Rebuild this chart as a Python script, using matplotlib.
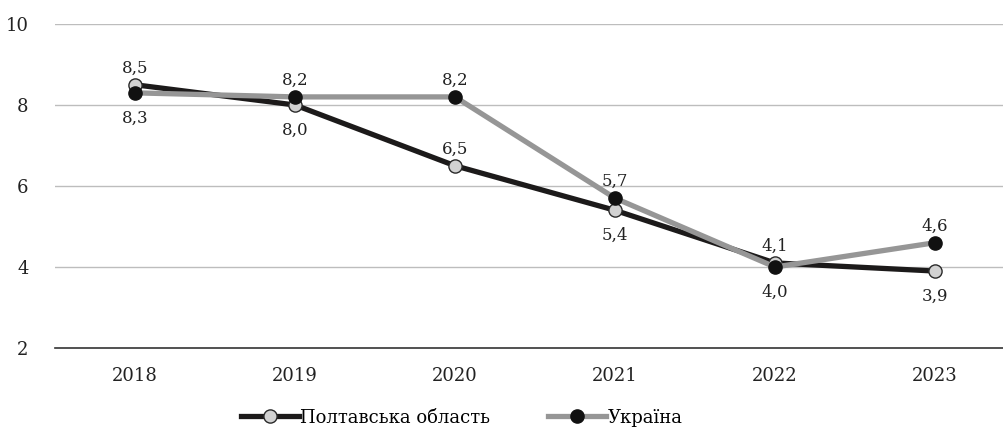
import matplotlib
matplotlib.use('Agg')
import matplotlib.pyplot as plt

plt.rcParams['font.family'] = ['DejaVu Serif']

years = ['2018', '2019', '2020', '2021', '2022', '2023']
poltava = [8.5, 8.0, 6.5, 5.4, 4.1, 3.9]
ukraine = [8.3, 8.2, 8.2, 5.7, 4.0, 4.6]
poltava_lab_pos = ['up', 'down', 'up', 'down', 'up', 'down']
ukraine_lab_pos = ['down', 'up', 'up', 'up', 'down', 'up']

fig = plt.figure(figsize=(10.04, 4.3), dpi=100)
ax = fig.add_axes([55/1004, 1-348/430, 1-55/1004, (348-24)/430])

x = list(range(len(years)))
ax.plot(x, poltava, color='#1c1a1a', lw=3.8, marker='o', ms=9.5,
        mfc='#d2d2d2', mec='#2a2a2a', mew=1.0, label='Полтавська область', zorder=3)
ax.plot(x, ukraine, color='#969696', lw=3.8, marker='o', ms=9.5,
        mfc='#111111', mec='#111111', label='Україна', zorder=4)

def fmt(v):
    return ('%.1f' % v).replace('.', ',')

for xi, v, p in zip(x, poltava, poltava_lab_pos):
    dy = 12 if p == 'up' else -18
    ax.annotate(fmt(v), (xi, v), xytext=(0, dy), textcoords='offset points',
                ha='center', va='center', fontsize=12, color='#222222')
for xi, v, p in zip(x, ukraine, ukraine_lab_pos):
    dy = 12 if p == 'up' else -18
    ax.annotate(fmt(v), (xi, v), xytext=(0, dy), textcoords='offset points',
                ha='center', va='center', fontsize=12, color='#222222')

ax.set_xlim(-0.5, (1004-135)/160)
ax.set_ylim(2, 10)
ax.set_yticks([2, 4, 6, 8, 10])
ax.set_xticks(x)
ax.set_xticklabels(years)
ax.tick_params(axis='both', length=0, labelsize=13, colors='#222222')
ax.tick_params(axis='y', pad=19)
ax.tick_params(axis='x', pad=14)
for yv in [4, 6, 8, 10]:
    ax.axhline(yv, color='#bdbdbd', lw=1, zorder=1)
for s in ['top', 'right', 'left']:
    ax.spines[s].set_visible(False)
ax.spines['bottom'].set_color('#333333')
ax.spines['bottom'].set_linewidth(1.2)

fig.legend(loc='lower center', bbox_to_anchor=(0.46, -0.03), ncol=2, frameon=False,
           fontsize=13, handlelength=3.2, handletextpad=0.1, columnspacing=3.2)

fig.savefig('out.png', dpi=100)
